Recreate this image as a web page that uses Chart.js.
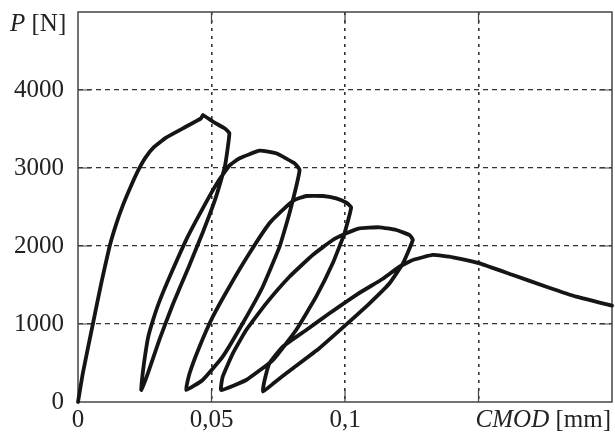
<!DOCTYPE html>
<html>
<head>
<meta charset="utf-8">
<script src="https://cdn.jsdelivr.net/npm/chart.js@4/dist/chart.umd.min.js"></script>
<style>
  html, body { margin: 0; padding: 0; background: #fff; }
  #wrap { width: 615px; height: 432px; }
</style>
</head>
<body>
<div id="wrap"><canvas id="cmodChart" width="615" height="432"></canvas></div>
<script>
// CMOD [mm] and load P [N] along the recorded path (loading, unloading, reloading cycles)
const cmod = [
  0, 0.0018, 0.0056, 0.0087, 0.0118, 0.0143, 0.0168, 0.0196, 0.0224, 0.0252, 0.0285, 0.033, 0.0393, 0.0461, 0.0468, 0.0505, 0.0549,
  0.0567, 0.055, 0.0515, 0.0468, 0.0415, 0.0355, 0.0305, 0.0262, 0.0237,
  0.024, 0.0248, 0.0262, 0.028, 0.0305, 0.0349, 0.0411, 0.0474, 0.0524, 0.0567, 0.0605, 0.068, 0.0742, 0.0811,
  0.083, 0.0792, 0.0755, 0.0692, 0.0617, 0.0542, 0.0467, 0.0405,
  0.0418, 0.0455, 0.0505, 0.0567, 0.0642, 0.0717, 0.078, 0.0811, 0.0855, 0.0917, 0.0967, 0.1005,
  0.1023, 0.0998, 0.0954, 0.0892, 0.0817, 0.073, 0.063, 0.0536,
  0.0542, 0.058, 0.063, 0.0705, 0.0792, 0.0879, 0.0954, 0.1005, 0.1054, 0.1129, 0.1192, 0.1242,
  0.1254, 0.1217, 0.1167, 0.1092, 0.1005, 0.0904, 0.08, 0.0736, 0.0692,
  0.0699, 0.0717, 0.0767, 0.0855, 0.0942, 0.105, 0.1142, 0.1204, 0.1254, 0.1329, 0.1404, 0.1504, 0.1629, 0.1754, 0.1866, 0.2
];
const load = [
  0, 368, 1004, 1522, 1990, 2280, 2520, 2750, 2960, 3130, 3270, 3390, 3509, 3637, 3680, 3595, 3509,
  3445, 3017, 2610, 2180, 1735, 1250, 800, 370, 154,
  300, 520, 820, 1040, 1290, 1650, 2120, 2525, 2824, 3030, 3125, 3222, 3188, 3060,
  2975, 2419, 1991, 1478, 1009, 581, 282, 154,
  368, 709, 1094, 1478, 1906, 2291, 2504, 2590, 2641, 2641, 2611, 2555,
  2496, 2163, 1778, 1350, 923, 538, 282, 154,
  325, 624, 923, 1265, 1606, 1885, 2077, 2163, 2227, 2240, 2205, 2141,
  2077, 1778, 1522, 1265, 995, 690, 420, 250, 132,
  282, 496, 709, 923, 1137, 1390, 1580, 1735, 1820, 1885, 1855, 1778, 1628, 1478, 1350, 1235
];

const xTickValues = [0, 0.05, 0.1];
const xTickText = ["0", "0,05", "0,1"];
const yTickValues = [0, 1000, 2000, 3000, 4000];

const serif = "'Liberation Serif', 'DejaVu Serif', serif";
const points = cmod.map((x, i) => ({ x: x, y: load[i] }));

// frame and the short solid ticks inside the plot
const framePlugin = {
  id: "frame",
  beforeDatasetsDraw(chart) {
    const { ctx, chartArea: a, scales } = chart;
    ctx.save();
    ctx.strokeStyle = "#444";
    ctx.lineWidth = 1.5;
    ctx.strokeRect(a.left, a.top, a.right - a.left, a.bottom - a.top);
    ctx.lineWidth = 1.2;
    ctx.beginPath();
    [1000, 2000, 3000, 4000].forEach(v => {
      const y = scales.y.getPixelForValue(v);
      ctx.moveTo(a.left, y); ctx.lineTo(a.left + 13, y);
      ctx.moveTo(a.right, y); ctx.lineTo(a.right - 13, y);
    });
    [0.05, 0.1, 0.15].forEach(v => {
      const x = scales.x.getPixelForValue(v);
      ctx.moveTo(x, a.bottom); ctx.lineTo(x, a.bottom - 12);
      ctx.moveTo(x, a.top); ctx.lineTo(x, a.top + 12);
    });
    ctx.stroke();
    ctx.restore();
  },
  afterDraw(chart) {
    const { ctx } = chart;
    ctx.save();
    ctx.fillStyle = "#222";
    ctx.textBaseline = "alphabetic";
    ctx.font = "italic 25px " + serif;
    ctx.fillText("P", 10, 31);
    let w = ctx.measureText("P").width;
    ctx.font = "25px " + serif;
    ctx.fillText(" [N]", 10 + w, 31);

    ctx.font = "25px " + serif;
    const unit = " [mm]";
    const uw = ctx.measureText(unit).width;
    ctx.font = "italic 25px " + serif;
    const cw = ctx.measureText("CMOD").width;
    const right = 611;
    ctx.fillText("CMOD", right - uw - cw, 427);
    ctx.font = "25px " + serif;
    ctx.fillText(unit, right - uw, 427);
    ctx.restore();
  }
};

new Chart(document.getElementById("cmodChart").getContext("2d"), {
  type: "scatter",
  data: {
    datasets: [
      {
        data: points,
        showLine: true,
        borderColor: "#151515",
        borderWidth: 3.8,
        pointRadius: 0,
        tension: 0.12,
        clip: false,
        borderJoinStyle: "round",
        borderCapStyle: "round",
      },
    ],
  },
  options: {
    responsive: false,
    animation: false,
    layout: { padding: { top: 12, right: 3, left: 0, bottom: 0 } },
    plugins: { legend: { display: false }, tooltip: { enabled: false } },
    scales: {
      x: {
        type: "linear",
        min: 0,
        max: 0.2,
        afterFit: s => { s.height = 30; s.paddingLeft = 0; s.paddingRight = 0; },
        afterBuildTicks: s => {
          s.ticks = [0, 0.05, 0.1, 0.15, 0.2].map(v => ({ value: v }));
        },
        ticks: {
          padding: 3,
          color: "#222",
          font: { family: serif, size: 25 },
          maxRotation: 0,
          autoSkip: false,
          callback: v => {
            const i = xTickValues.findIndex(t => Math.abs(t - v) < 1e-9);
            return i >= 0 ? xTickText[i] : "";
          },
        },
        grid: {
          drawTicks: false,
          color: c => (c.tick && (c.tick.value < 1e-9 || c.tick.value > 0.199)) ? "rgba(0,0,0,0)" : "#333",
          lineWidth: 1.6,
        },
        border: { display: false, dash: [3, 5] },
      },
      y: {
        min: 0,
        max: 5000,
        afterFit: s => { s.width = 78; s.paddingTop = 0; s.paddingBottom = 0; },
        ticks: {
          stepSize: 1000,
          padding: 14,
          color: "#222",
          font: { family: serif, size: 25 },
          callback: v => (yTickValues.includes(v) ? String(v) : ""),
        },
        grid: {
          drawTicks: false,
          color: c => (c.tick && (c.tick.value === 0 || c.tick.value === 5000)) ? "rgba(0,0,0,0)" : "#333",
          lineWidth: 1.3,
        },
        border: { display: false, dash: [5, 4] },
      },
    },
  },
  plugins: [framePlugin],
});
</script>
</body>
</html>
